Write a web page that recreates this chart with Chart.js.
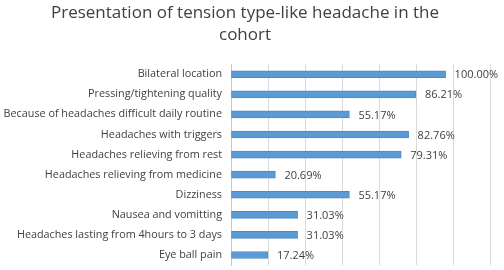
<!DOCTYPE html>
<html lang="en">
<head>
    <meta charset="UTF-8">
    <title>Presentation of tension type-like headache</title>
    <script src="https://cdn.jsdelivr.net/npm/chart.js"></script>
    <style>
        html, body { margin: 0; padding: 0; background: #ffffff; }
        #wrap { width: 504px; height: 270px; }
    </style>
</head>
<body>
    <div id="wrap"><canvas id="headacheChart" width="504" height="270"></canvas></div>

    <script>
        // data (percent of cohort)
        const categories = [
            'Bilateral location',
            'Pressing/tightening quality',
            'Because of headaches difficult daily routine',
            'Headaches with triggers',
            'Headaches relieving from rest',
            'Headaches relieving from medicine',
            'Dizziness',
            'Nausea and vomitting',
            'Headaches lasting from 4hours to 3 days',
            'Eye ball pain'
        ];
        const percentages = [100.00, 86.21, 55.17, 82.76, 79.31, 20.69, 55.17, 31.03, 31.03, 17.24];
        const valueLabels = ['100.00%', '86.21%', '55.17%', '82.76%', '79.31%', '20.69%', '55.17%', '31.03%', '31.03%', '17.24%'];
        // gridlines every 5 patients of 29 -> 17.24 %
        const axisStep = 17.24;
        const axisMax = 120.68;

        const fontFamily = "'Open Sans', 'Liberation Sans', sans-serif";
        const textColor = '#404040';

        // simple value labels at the bar ends
        const barLabels = {
            id: 'barLabels',
            afterDatasetsDraw(chart) {
                const ctx = chart.ctx;
                const meta = chart.getDatasetMeta(0);
                ctx.save();
                ctx.font = '11px ' + fontFamily;
                ctx.fillStyle = textColor;
                ctx.textAlign = 'left';
                ctx.textBaseline = 'middle';
                meta.data.forEach((bar, i) => {
                    ctx.fillText(valueLabels[i], bar.x + 9, bar.y + 1);
                });
                ctx.restore();
            }
        };

        const ctx = document.getElementById('headacheChart').getContext('2d');
        new Chart(ctx, {
            type: 'bar',
            data: {
                labels: categories,
                datasets: [{
                    data: percentages,
                    backgroundColor: '#5b9bd5',
                    borderColor: '#4a89c6',
                    borderWidth: 1,
                    borderSkipped: false,
                    barThickness: 7
                }]
            },
            options: {
                indexAxis: 'y',
                responsive: false,
                animation: false,
                layout: { padding: { left: 0, right: 14, top: 0, bottom: 5 } },
                plugins: {
                    legend: { display: false },
                    tooltip: { enabled: false },
                    title: {
                        display: true,
                        text: ['Presentation of tension type-like headache in the', 'cohort'],
                        color: textColor,
                        font: { family: fontFamily, size: 17, weight: 'normal', lineHeight: 1.3 },
                        padding: { top: 2, bottom: 18 }
                    }
                },
                scales: {
                    x: {
                        min: 0,
                        max: axisMax,
                        afterFit(scale) { scale.height = 0; },
                        ticks: { display: false, stepSize: axisStep },
                        grid: { color: '#d9d9d9', drawTicks: false },
                        border: { display: false }
                    },
                    y: {
                        afterFit(scale) {
                            scale.width = 231;
                            scale.paddingTop = 0;
                            scale.paddingBottom = 0;
                        },
                        ticks: {
                            color: textColor,
                            padding: 9,
                            font: { family: fontFamily, size: 10.8 }
                        },
                        grid: { display: false, drawTicks: false },
                        border: { display: true, color: '#c8c8c8' }
                    }
                }
            },
            plugins: [barLabels]
        });
    </script>
</body>
</html>
